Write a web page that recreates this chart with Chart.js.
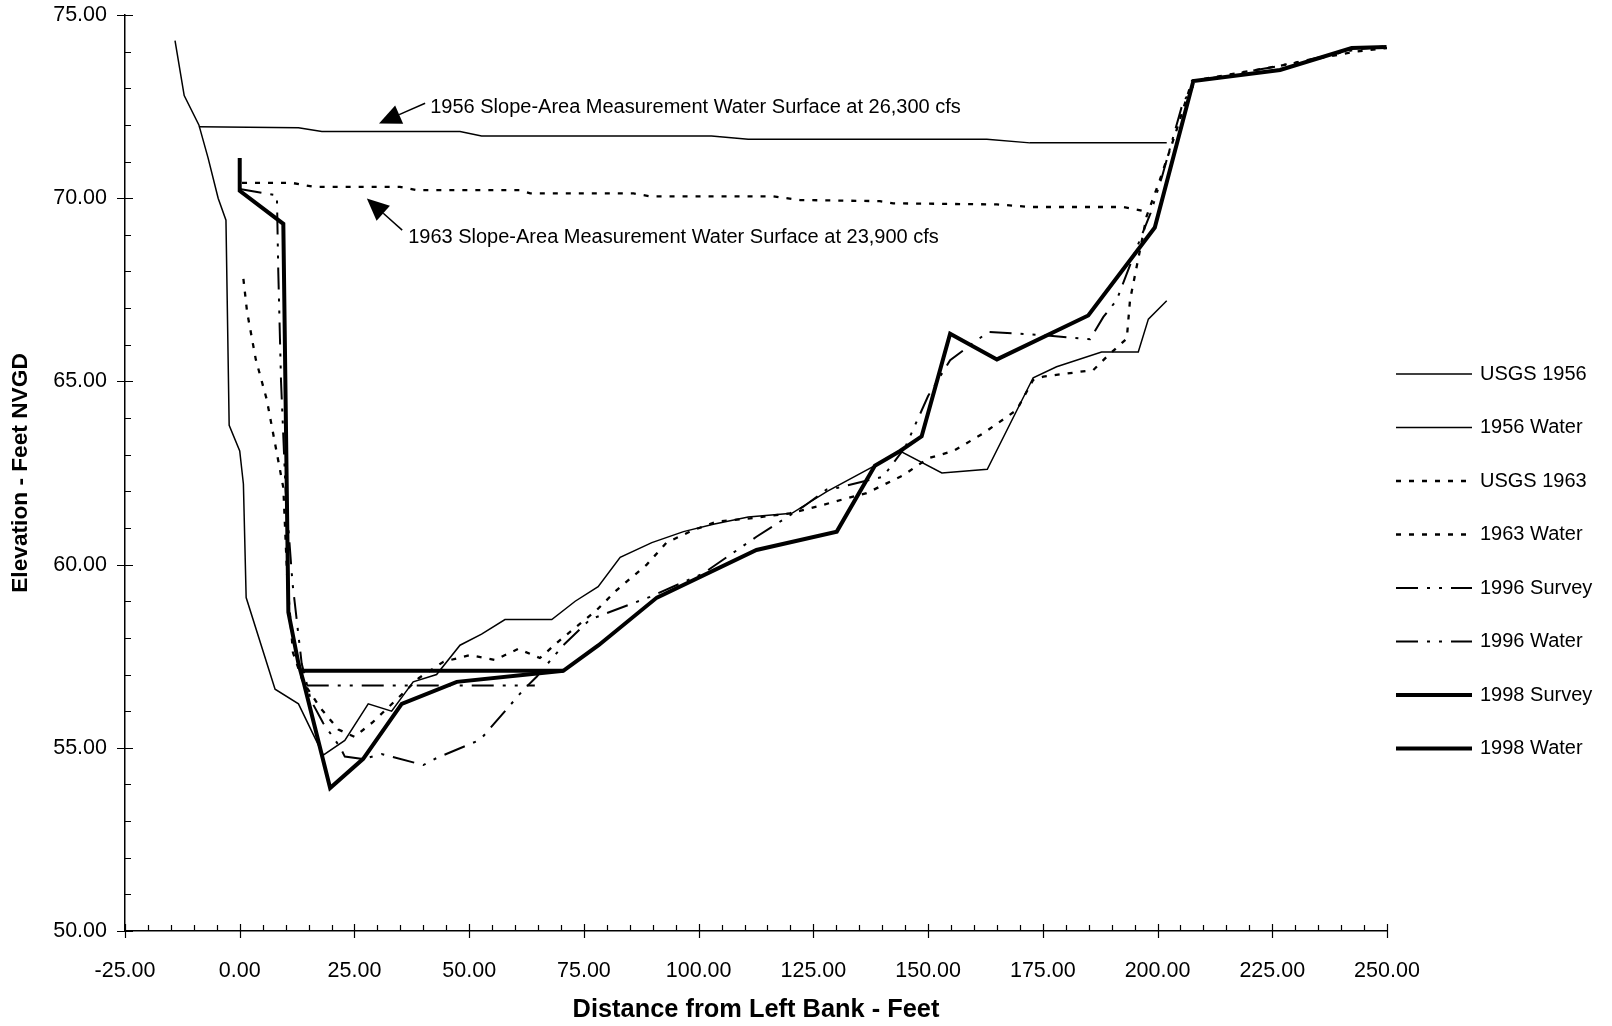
<!DOCTYPE html>
<html>
<head>
<meta charset="utf-8">
<script src="https://cdn.jsdelivr.net/npm/chart.js@4.4.1/dist/chart.umd.min.js"></script>
<style>
html,body{margin:0;padding:0;background:#fff;}
#wrap{width:1612px;height:1026px;position:relative;}
</style>
</head>
<body>
<div id="wrap"><canvas id="c" width="1612" height="1026"></canvas></div>
<script>
// ---------------- DATA (distance ft, elevation ft NVGD) ----------------
const usgs1956 = [[-14.1,74.3],[-12.1,72.8],[-8.9,72.0],[-6.9,71.1],[-4.7,70.0],[-3.0,69.4],[-2.3,63.8],[0,63.1],[0.8,62.2],[1.4,59.1],[7.7,56.6],[12.8,56.2],[18.2,54.8],[22.9,55.2],[28.0,56.2],[33.1,56.0],[37.8,56.8],[42.9,57.0],[48.0,57.8],[52.7,58.1],[57.8,58.5],[68.0,58.5],[73.1,59.0],[78.1,59.4],[82.9,60.2],[89.8,60.6],[96.7,60.9],[103.2,61.1],[110.8,61.3],[120.3,61.4],[128.0,62.0],[138.4,62.7],[143.9,63.1],[153.0,62.5],[162.9,62.6],[172.9,65.1],[178.0,65.4],[187.8,65.8],[195.8,65.8],[198.0,66.7],[202.0,67.2]];
const water1956 = [[-8.9,71.95],[12.8,71.92],[17.9,71.82],[48.0,71.82],[52.7,71.7],[102.8,71.7],[110.8,71.61],[162.8,71.61],[172.2,71.51],[202.0,71.51]];
const usgs1963 = [[0.8,67.8],[1.6,66.9],[3.5,65.6],[5.9,64.5],[9.5,62.1],[10.4,59.5],[11.6,57.6],[13.8,56.8],[17.5,56.1],[21.5,55.5],[25.0,55.3],[29.0,55.7],[34.0,56.3],[39.0,56.9],[44.4,57.35],[50.2,57.53],[55.6,57.4],[60.7,57.7],[65.4,57.45],[69.8,57.94],[77.8,58.76],[82.1,59.3],[88.7,60.0],[93.0,60.6],[98.8,60.94],[103.9,61.17],[111.2,61.26],[119.9,61.4],[125.7,61.58],[132.3,61.81],[136.6,61.95],[144.6,62.44],[150.0,62.9],[155.5,63.1],[162.0,63.58],[169.3,64.22],[172.9,65.04],[175.1,65.13],[186.0,65.31],[188.9,65.67],[193.3,66.17],[194.0,67.22],[196.9,69.04],[197.6,69.5],[200.5,70.5],[204.0,71.8],[207.5,73.2],[226.0,73.6],[243.0,74.0],[250.0,74.1]];
const water1963 = [[0.5,70.42],[11.3,70.42],[16.1,70.31],[34.9,70.31],[38.5,70.22],[61.1,70.22],[63.3,70.13],[85.8,70.13],[89.4,70.05],[116.3,70.05],[122.1,69.95],[139.5,69.92],[142.4,69.86],[165.0,69.83],[172.2,69.76],[192.5,69.76],[196.9,69.65]];
const survey1996 = [[0,70.25],[8.1,70.08],[8.4,68.0],[9.0,65.0],[10.0,62.0],[11.5,59.5],[13.5,57.3],[15.5,56.3],[18.2,55.67],[21.8,55.03],[22.9,54.76],[26.9,54.69],[30.9,54.83],[40.0,54.53],[42.9,54.72],[52.4,55.22],[61.8,56.58],[64.7,56.94],[70.5,57.8],[76.3,58.5],[89.4,59.12],[101.0,59.76],[112.6,60.76],[122.8,61.58],[127.9,62.05],[130.4,62.1],[140.2,62.4],[145.0,63.2],[150.0,64.6],[154.8,65.58],[163.1,66.35],[175.1,66.26],[185.3,66.15],[188.2,66.76],[191.1,67.22],[195.0,68.5],[198.5,69.6],[201.0,70.6],[205.5,72.6],[208.5,73.2],[226.0,73.6],[243.0,74.05],[250.0,74.15]];
const water1996 = [[14.6,56.7],[64.3,56.7]];
const survey1998 = [[0,71.1],[0,70.2],[9.5,69.3],[10.6,58.7],[12.8,57.3],[13.9,56.8],[19.7,53.9],[26.9,54.7],[35.3,56.2],[47.3,56.8],[70.5,57.1],[78.2,57.8],[90.9,59.1],[112.6,60.4],[130.1,60.9],[138.4,62.7],[143.9,63.1],[148.6,63.5],[154.8,66.3],[165.0,65.6],[184.9,66.8],[199.4,69.2],[207.8,73.2],[226.7,73.5],[242.3,74.1],[249.9,74.13]];
const water1998 = [[13.5,57.1],[70.5,57.1]];

const seriesNames = ['USGS 1956','1956 Water','USGS 1963','1963 Water','1996 Survey','1996 Water','1998 Survey','1998 Water'];
const seriesData = [usgs1956, water1956, usgs1963, water1963, survey1996, water1996, survey1998, water1998];

const xRange = [-25, 250];
const yRange = [50, 75];
const xMajorStep = 25, xMinorStep = 5;
const yMajorStep = 5, yMinorStep = 1;

const xTitle = 'Distance from Left Bank - Feet';
const yTitle = 'Elevation - Feet NVGD';

// annotation texts with arrow anchors (data units)
const noteTexts = ['1956 Slope-Area Measurement Water Surface at 26,300 cfs','1963 Slope-Area Measurement Water Surface at 23,900 cfs'];
const noteTextAt = [[41.5,72.47],[36.7,68.94]];
const noteArrowTail = [[40.4,72.59],[35.4,69.13]];
const noteArrowTip = [[30.35,72.04],[27.7,69.99]];

// ---------------- STYLES ----------------
const FONT = "'Liberation Sans', Arial, Helvetica, sans-serif";
const seriesStyle = [
  {w:1.5, dash:[]},
  {w:1.5, dash:[]},
  {w:2.3, dash:[5,8]},
  {w:2.3, dash:[5,8]},
  {w:2, dash:[22,9,3,9,3,9]},
  {w:2, dash:[22,9,3,9,3,9]},
  {w:4, dash:[]},
  {w:4, dash:[]}
];

Chart.defaults.font.family = FONT;
Chart.defaults.color = '#000';

const datasets = seriesData.map((arr, i) => ({
  label: seriesNames[i],
  data: arr.map(p => ({x: p[0], y: p[1]})),
  showLine: true,
  borderColor: '#000',
  backgroundColor: '#000',
  borderWidth: seriesStyle[i].w,
  borderDash: seriesStyle[i].dash,
  borderCapStyle: 'butt',
  borderJoinStyle: 'miter',
  pointRadius: 0,
  pointHoverRadius: 0,
  tension: 0,
  fill: false
}));

const decorPlugin = {
  id: 'decor',
  afterDraw(chart) {
    const ctx = chart.ctx;
    const xs = chart.scales.x, ys = chart.scales.y;
    const x0 = xs.left, yb = ys.bottom;
    ctx.save();
    ctx.strokeStyle = '#000';
    ctx.lineWidth = 1.2;
    ctx.setLineDash([]);
    ctx.beginPath();
    // y ticks
    for (let v = yRange[0]; v <= yRange[1] + 1e-9; v += yMinorStep) {
      const p = Math.round(ys.getPixelForValue(v)) + 0.5;
      const major = Math.abs(v / yMajorStep - Math.round(v / yMajorStep)) < 1e-9;
      if (major) { ctx.moveTo(x0 - 8, p); ctx.lineTo(x0 + 8, p); }
      else { ctx.moveTo(x0, p); ctx.lineTo(x0 + 6, p); }
    }
    // x ticks
    for (let v = xRange[0]; v <= xRange[1] + 1e-9; v += xMinorStep) {
      const p = Math.round(xs.getPixelForValue(v)) + 0.5;
      const major = Math.abs(v / xMajorStep - Math.round(v / xMajorStep)) < 1e-9;
      if (major) { ctx.moveTo(p, yb - 7); ctx.lineTo(p, yb + 7); }
      else { ctx.moveTo(p, yb - 6); ctx.lineTo(p, yb); }
    }
    ctx.stroke();

    // annotations
    ctx.fillStyle = '#000';
    ctx.font = '20px ' + FONT;
    ctx.textBaseline = 'middle';
    ctx.textAlign = 'left';
    noteTexts.forEach((t, i) => {
      ctx.fillText(t, xs.getPixelForValue(noteTextAt[i][0]), ys.getPixelForValue(noteTextAt[i][1]));
      const tx = xs.getPixelForValue(noteArrowTail[i][0]), ty = ys.getPixelForValue(noteArrowTail[i][1]);
      const hx = xs.getPixelForValue(noteArrowTip[i][0]), hy = ys.getPixelForValue(noteArrowTip[i][1]);
      const ang = Math.atan2(hy - ty, hx - tx);
      const L = 22, W = 10;
      const bx = hx - L * Math.cos(ang), by = hy - L * Math.sin(ang);
      ctx.lineWidth = 1.5;
      ctx.beginPath(); ctx.moveTo(tx, ty); ctx.lineTo(bx, by); ctx.stroke();
      ctx.beginPath();
      ctx.moveTo(hx, hy);
      ctx.lineTo(bx + W * Math.sin(ang), by - W * Math.cos(ang));
      ctx.lineTo(bx - W * Math.sin(ang), by + W * Math.cos(ang));
      ctx.closePath(); ctx.fill();
    });

    // legend
    const lx0 = xs.right + 9, lx1 = lx0 + 76, ltx = lx1 + 8;
    const ly0 = 374, lstep = 53.5;
    ctx.font = '20px ' + FONT;
    chart.data.datasets.forEach((ds, i) => {
      const y = ly0 + i * lstep;
      ctx.lineWidth = ds.borderWidth;
      ctx.setLineDash(ds.borderDash || []);
      ctx.lineCap = 'butt';
      ctx.beginPath(); ctx.moveTo(lx0, y); ctx.lineTo(lx1, y); ctx.stroke();
      ctx.setLineDash([]);
      ctx.fillText(ds.label, ltx, y);
    });
    ctx.restore();
  }
};

new Chart(document.getElementById('c'), {
  type: 'scatter',
  data: { datasets },
  options: {
    responsive: false,
    animation: false,
    devicePixelRatio: 1,
    layout: { padding: { top: 15, right: 225, bottom: 0, left: 0 } },
    plugins: { legend: { display: false }, tooltip: { enabled: false } },
    scales: {
      x: {
        type: 'linear', min: xRange[0], max: xRange[1],
        grid: { display: false },
        border: { display: true, color: '#000', width: 1.5 },
        ticks: { stepSize: xMajorStep, autoSkip: false, maxRotation: 0, padding: 19, color: '#000',
                 font: { size: 21.5 }, callback: v => Number(v).toFixed(2) },
        title: { display: true, text: xTitle, color: '#000', font: { size: 25.4, weight: 'bold' }, padding: { top: 0, bottom: 1 } },
        afterFit(s) { s.height = 95; s.paddingLeft = 0; s.paddingRight = 0; }
      },
      y: {
        type: 'linear', min: yRange[0], max: yRange[1],
        grid: { display: false },
        border: { display: true, color: '#000', width: 1.5 },
        ticks: { stepSize: yMajorStep, padding: 10, color: '#000',
                 font: { size: 21.5 }, callback: v => Number(v).toFixed(2) },
        title: { display: true, text: yTitle, color: '#000', font: { size: 22.7, weight: 'bold' }, padding: { top: 7, bottom: 0 } },
        afterFit(s) { s.width = 125; s.paddingTop = 0; s.paddingBottom = 0; }
      }
    }
  },
  plugins: [decorPlugin]
});
</script>
</body>
</html>
